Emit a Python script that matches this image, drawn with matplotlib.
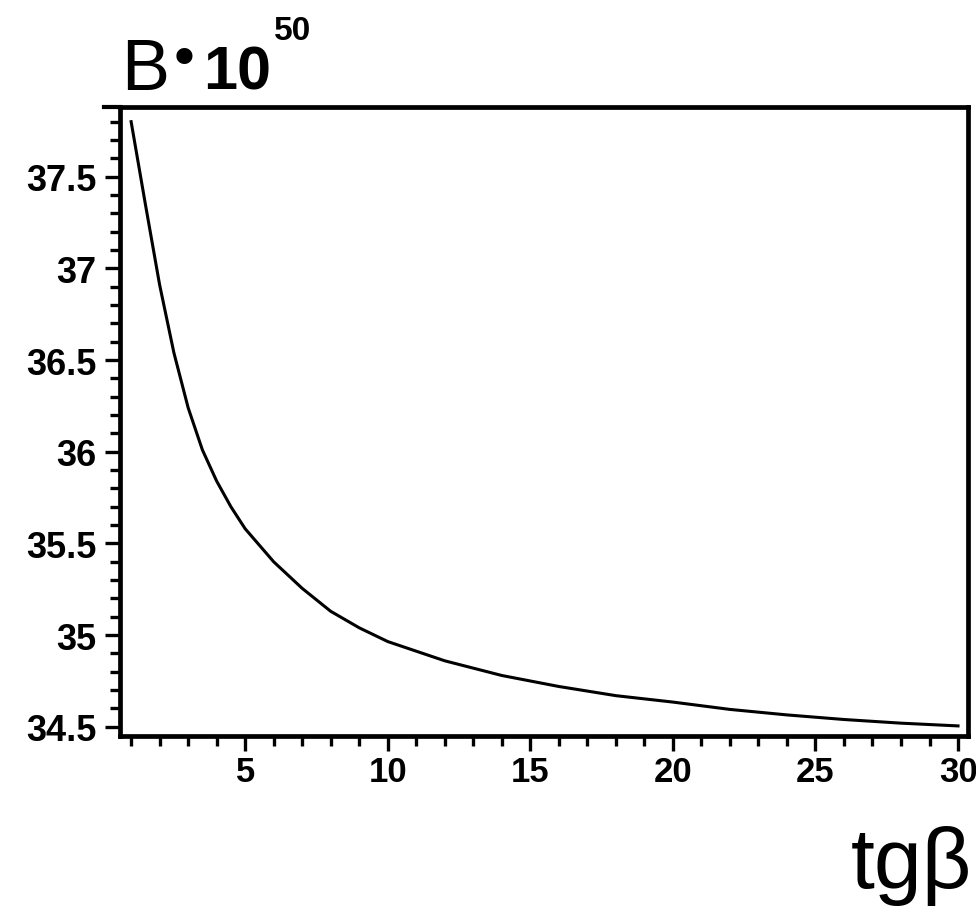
import matplotlib
matplotlib.use("Agg")
import matplotlib.pyplot as plt
from matplotlib.ticker import MultipleLocator, FixedLocator
from matplotlib.lines import Line2D

# data
tgb = [1, 1.5, 2, 2.5, 3, 3.5, 4, 4.5, 5, 6, 7, 8, 9, 10, 12, 14, 16, 18, 20, 22, 24, 26, 28, 30]
B = [37.80, 37.35, 36.91, 36.54, 36.24, 36.01, 35.84, 35.70, 35.58, 35.40, 35.255, 35.13,
     35.04, 34.965, 34.86, 34.78, 34.72, 34.67, 34.635, 34.595, 34.565, 34.54, 34.52, 34.505]
xticks = [5, 10, 15, 20, 25, 30]
yticks = [34.5, 35, 35.5, 36, 36.5, 37, 37.5]
ytick_labels = ["34.5", "35", "35.5", "36", "36.5", "37", "37.5"]

W, H = 976, 920
fig = plt.figure(figsize=(W / 100, H / 100), dpi=100)
L, R, T, Bt = 120, 968, 108, 737
ax = fig.add_axes([L / W, 1 - Bt / H, (R - L) / W, (Bt - T) / H])

ax.plot(tgb, B, color="black", lw=2.2, solid_joinstyle="round")
ax.set_xlim(0.61, 30.35)
ax.set_ylim(34.45, 37.88)

ax.xaxis.set_major_locator(FixedLocator(xticks))
ax.xaxis.set_minor_locator(MultipleLocator(1))
ax.yaxis.set_major_locator(FixedLocator(yticks))
ax.set_yticklabels(ytick_labels)
ax.yaxis.set_minor_locator(MultipleLocator(0.1))

for s in ax.spines.values():
    s.set_linewidth(3.4)
ax.tick_params(which="major", direction="out", length=11, width=2.4, top=False, right=False)
ax.tick_params(which="minor", direction="out", length=7, width=2.4, top=False, right=False)
ax.tick_params(axis="y", which="major", pad=6)
ax.tick_params(axis="x", which="major", pad=3)
for lab in ax.get_yticklabels():
    lab.set_fontfamily("Liberation Sans")
    lab.set_fontweight("bold")
    lab.set_fontsize(26)
for lab in ax.get_xticklabels():
    lab.set_fontfamily("Liberation Sans")
    lab.set_fontweight("bold")
    lab.set_fontsize(25)

# extension of the top frame line to the left
fig.add_artist(Line2D([104 / W, L / W], [1 - T / H, 1 - T / H], color="black", lw=3.0,
                      transform=fig.transFigure))

def fx(px):
    return px / W

def fy(py):
    return 1 - py / H

# y-axis title: B·10^50
fig.text(fx(121), fy(90), "B", fontfamily="Liberation Sans", fontsize=52, va="baseline", ha="left")
fig.text(fx(184), fy(62), "\u2022", fontfamily="DejaVu Sans", fontsize=40, va="center", ha="center")
fig.text(fx(203), fy(89), "10", fontfamily="Liberation Sans", fontweight="bold", fontsize=44,
         va="baseline", ha="left")
fig.text(fx(274), fy(40), "50", fontfamily="Liberation Sans", fontweight="bold", fontsize=24,
         va="baseline", ha="left")

# x-axis title
fig.text(fx(972), fy(888), "tg\u03b2", fontfamily="Liberation Sans", fontsize=62,
         va="baseline", ha="right")

fig.savefig("out.png", dpi=100, facecolor="white")
